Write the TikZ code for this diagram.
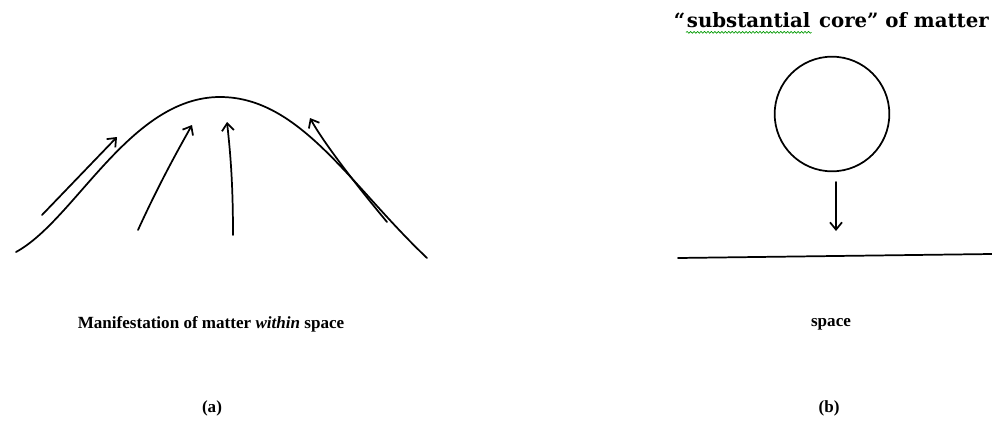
\documentclass[tikz,border=0pt]{standalone}
\usepackage{fontspec}
\setmainfont{Liberation Serif}
\newfontfamily\coreface{DejaVu Serif}
\usetikzlibrary{arrows.meta,positioning,decorations.pathmorphing}
\begin{document}
\begin{tikzpicture}[x=0.75pt, y=-0.75pt, line width=1.3pt, line join=round, line cap=round, >={Straight Barb[length=5.5pt,width=9pt]},
	caption/.style={font=\fontsize{12.8}{15}\selectfont\bfseries, inner sep=0pt},
	corelabel/.style={font=\coreface\bfseries\fontsize{14.8}{17}\selectfont, inner sep=0pt}]
		\useasboundingbox (0,0) rectangle (992,432);
		% (a) matter within space
		\coordinate (foot0) at (16,252);	\coordinate (top) at (220,97);	\coordinate (foot1) at (427,258);
		\draw (foot0) .. controls (75,220) and (130,97) .. (top) .. controls (300,97) and (350,185) .. (foot1);
		\coordinate (l0) at (42,215);	\coordinate (l1) at (117,137);
		\coordinate (m0) at (138,230);	\coordinate (m1) at (192,125);
		\coordinate (c0) at (233,235);	\coordinate (c1) at (227,122);
		\coordinate (r0) at (387,222);	\coordinate (r1) at (310,118);
		\draw[->] (l0)--(l1);
		\draw[->] (m0) .. controls (160,182) and (178,150) .. (m1);
		\draw[->] (c0) .. controls (233,180) and (230,150) .. (c1);
		\draw[->] (r0) .. controls (352,180) and (322,140) .. (r1);
		\node[caption] (capa) at (211,324) {Manifestation of matter \textit{within} space};
		\node[caption] (taga) at (212,408) {(a)};
		% (b) core above space
		\node[corelabel, anchor=base west] (q) at (673,27) {“};
		\node[corelabel, anchor=base west] (subst) at (q.base east) {substantial};
		\node[corelabel, anchor=base west] (rest) at (subst.base east) {\ core” of matter};
		\draw[green!60!black, line width=0.5pt, decorate, decoration={snake, amplitude=0.7pt, segment length=2.6pt}] ([yshift=-4pt]subst.base west) -- ([yshift=-4pt]subst.base east);
		\node[circle, draw, minimum size=86pt, inner sep=0pt] (core) at (832,114) {};
		\coordinate (fall0) at (836,182);	\coordinate (fall1) at (836,231);
		\draw[->] (fall0)--(fall1);
		\coordinate (sp0) at (678,258);	\coordinate (sp1) at (992,254);
		\draw (sp0)--(sp1);
		\node[caption] (capb) at (831,324) {space};
		\node[caption] (tagb) at (829,408) {(b)};
	\end{tikzpicture}
\end{document}
